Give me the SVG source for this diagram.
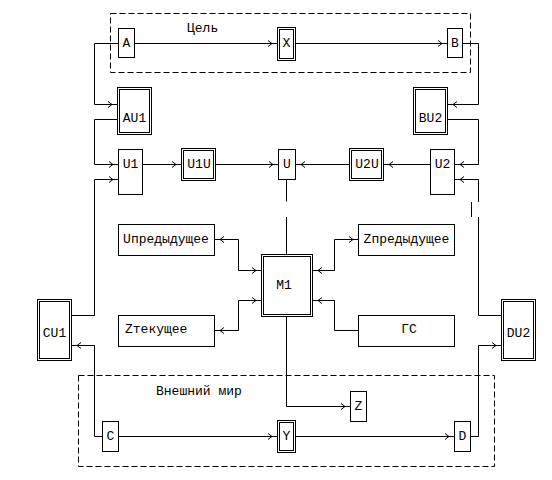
<svg xmlns="http://www.w3.org/2000/svg" width="552" height="480" viewBox="0 0 552 480">
<style>
rect{fill:#fff;stroke:#000;stroke-width:1}
.frame{fill:none;stroke-dasharray:6,3}
.c path{fill:none;stroke:#000;stroke-width:1}
text{font-family:"Liberation Mono","DejaVu Sans Mono",monospace;font-size:13px;fill:#000}
.m{text-anchor:middle}
</style>
<defs>
<marker id="ar" markerUnits="userSpaceOnUse" markerWidth="12" markerHeight="8" viewBox="0 0 12 8" refX="12" refY="4" orient="auto-start-reverse">
<path d="M2.5,1 L6.5,4 L2.5,7" fill="none" stroke="#000" stroke-width="1"/>
</marker>
</defs>
<rect width="552" height="480" style="stroke:none;fill:#fff"/>
<g id="frames">
<rect class="frame" x="110.5" y="13.5" width="360" height="59"/>
<text x="187" y="32">Цель</text>
<rect class="frame" x="78.5" y="375.5" width="416" height="91"/>
<text x="156" y="395">Внешний мир</text>
</g>
<g class="c" id="connectors">
<path d="M134.5,43.5 H277.5" marker-end="url(#ar)"/>
<path d="M295.5,43.5 H447.5" marker-end="url(#ar)"/>
<path d="M118.5,43.5 H94.5 V104.5 H117.5" marker-end="url(#ar)"/>
<path d="M462.5,43.5 H478.5 V104.5 H447.5" marker-end="url(#ar)"/>
<path d="M117.5,119.5 H94.5 V164.5 H118.5" marker-end="url(#ar)"/>
<path d="M447.5,119.5 H478.5 V164.5 H454.5" marker-end="url(#ar)"/>
<path d="M71.5,315.5 H94.5 V179.5 H118.5" marker-end="url(#ar)"/>
<path d="M501.5,315.5 H478.5 V217 M471.5,217 V202 M478.5,202 V179.5 H454.5" marker-end="url(#ar)"/>
<path d="M142.5,164.5 H181.5" marker-end="url(#ar)"/>
<path d="M215.5,164.5 H278.5" marker-end="url(#ar)"/>
<path d="M349.5,164.5 H295.5" marker-end="url(#ar)"/>
<path d="M430.5,164.5 H383.5" marker-end="url(#ar)"/>
<path d="M286.5,179.5 V201.5 M286.5,217 V254.5"/>
<path d="M214.5,239.5 H238.5 V270.5 H261.5" marker-start="url(#ar)" marker-end="url(#ar)"/>
<path d="M214.5,330.5 H238.5 V300.5 H261.5" marker-start="url(#ar)" marker-end="url(#ar)"/>
<path d="M312.5,270.5 H334.5 V239.5 H358.5" marker-start="url(#ar)" marker-end="url(#ar)"/>
<path d="M358.5,330.5 H334.5 V300.5 H312.5" marker-end="url(#ar)"/>
<path d="M286.5,316.5 V406.5 H350.5" marker-end="url(#ar)"/>
<path d="M102.5,436.5 H94.5 V345.5 H71.5" marker-end="url(#ar)"/>
<path d="M118.5,436.5 H277.5" marker-end="url(#ar)"/>
<path d="M295.5,436.5 H454.5" marker-end="url(#ar)"/>
<path d="M470.5,436.5 H478.5 V345.5 H501.5" marker-end="url(#ar)"/>
</g>
<g id="A"><rect x="118.5" y="28.5" width="16" height="29"/><text class="m" x="126.5" y="47">A</text></g>
<g id="X"><rect x="277.5" y="27.5" width="18" height="33"/><rect x="279.5" y="29.5" width="14" height="29"/><text class="m" x="286.5" y="47">X</text></g>
<g id="B"><rect x="447.5" y="28.5" width="15" height="29"/><text class="m" x="455" y="47">B</text></g>
<g id="AU1"><rect x="117.5" y="87.5" width="34" height="47"/><rect x="119.5" y="89.5" width="30" height="43"/><text class="m" x="134.5" y="122">AU1</text></g>
<g id="BU2"><rect x="413.5" y="87.5" width="34" height="47"/><rect x="415.5" y="89.5" width="30" height="43"/><text class="m" x="430.5" y="122">BU2</text></g>
<g id="U1"><rect x="118.5" y="149.5" width="24" height="45"/><text class="m" x="130.5" y="168">U1</text></g>
<g id="U1U"><rect x="181.5" y="148.5" width="34" height="32"/><rect x="183.5" y="150.5" width="30" height="28"/><text class="m" x="199" y="168">U1U</text></g>
<g id="U"><rect x="278.5" y="149.5" width="17" height="30"/><text class="m" x="287" y="168">U</text></g>
<g id="U2U"><rect x="349.5" y="148.5" width="34" height="32"/><rect x="351.5" y="150.5" width="30" height="28"/><text class="m" x="367" y="168">U2U</text></g>
<g id="U2"><rect x="430.5" y="149.5" width="24" height="45"/><text class="m" x="442.5" y="168">U2</text></g>
<g id="Uprev"><rect x="118.5" y="224.5" width="96" height="31"/><text class="m" x="166" y="243">Uпредыдущее</text></g>
<g id="Zprev"><rect x="358.5" y="224.5" width="96" height="31"/><text class="m" x="406.5" y="243">Zпредыдущее</text></g>
<g id="M1"><rect x="261.5" y="254.5" width="51" height="62"/><rect x="263.5" y="256.5" width="47" height="58"/><text class="m" x="284" y="289">M1</text></g>
<g id="Zcur"><rect x="118.5" y="315.5" width="96" height="31"/><text x="125" y="333">Zтекущее</text></g>
<g id="GS"><rect x="358.5" y="315.5" width="96" height="31"/><text class="m" x="409" y="333">ГС</text></g>
<g id="CU1"><rect x="37.5" y="299.5" width="34" height="61"/><rect x="39.5" y="301.5" width="30" height="57"/><text class="m" x="54.5" y="337">CU1</text></g>
<g id="DU2"><rect x="501.5" y="299.5" width="34" height="61"/><rect x="503.5" y="301.5" width="30" height="57"/><text class="m" x="518.5" y="337">DU2</text></g>
<g id="Z"><rect x="350.5" y="391.5" width="16" height="30"/><text class="m" x="358.5" y="410">Z</text></g>
<g id="C"><rect x="102.5" y="421.5" width="16" height="30"/><text class="m" x="110.5" y="440">C</text></g>
<g id="Y"><rect x="277.5" y="420.5" width="18" height="32"/><rect x="279.5" y="422.5" width="14" height="28"/><text class="m" x="286.5" y="440">Y</text></g>
<g id="D"><rect x="454.5" y="421.5" width="16" height="30"/><text class="m" x="462.5" y="440">D</text></g>
</svg>
